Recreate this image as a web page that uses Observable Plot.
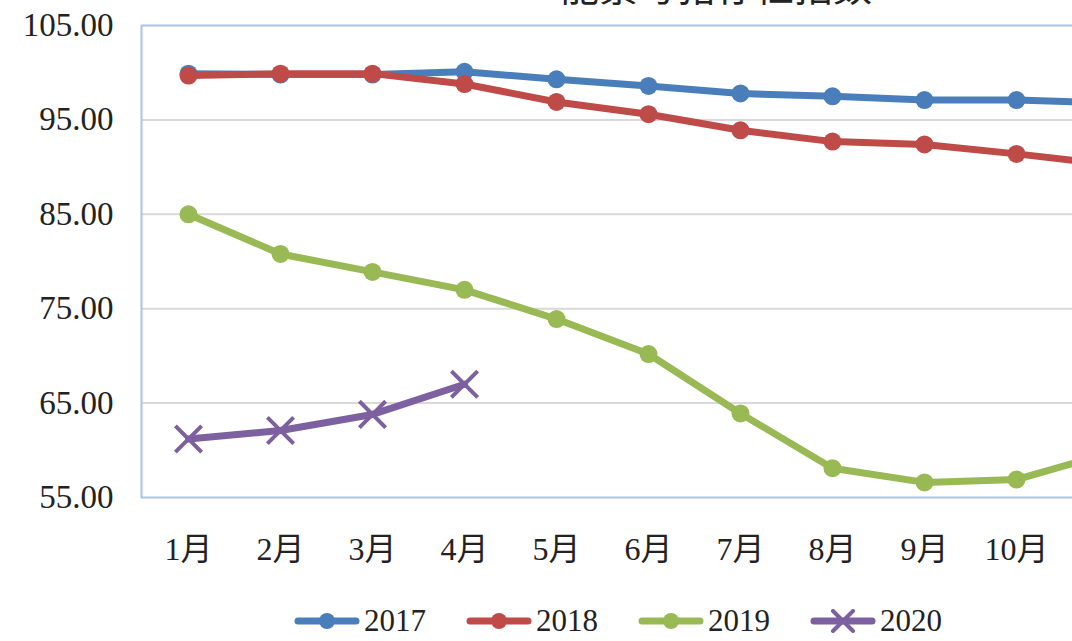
<!DOCTYPE html>
<html>
<head>
<meta charset="utf-8">
<script src="https://cdn.jsdelivr.net/npm/d3@7"></script>
<script src="https://cdn.jsdelivr.net/npm/@observablehq/plot@0.6"></script>
<style>
  html, body { margin: 0; padding: 0; background: #fff; overflow: hidden; width: 1072px; height: 641px; }
  #wrap { position: relative; width: 1072px; height: 641px; overflow: hidden; }
  #title { position: absolute; top: -40px; left: 560px; font-family: "Noto Sans CJK SC", sans-serif; font-size: 39px; color: #222; white-space: nowrap; line-height: 48px; }
  #chart { position: absolute; top: 0; left: 0; width: 1250px; }
  #chart svg { max-width: none !important; }
  #legend { position: absolute; top: 606px; left: 294px; height: 30px; display: flex; align-items: center; gap: 40px; font-family: "Liberation Serif", serif; font-size: 31px; line-height: 30px; color: #222; }
  .item { display: flex; align-items: center; gap: 4px; height: 30px; }
</style>
</head>
<body>
<div id="wrap">
  <div id="title">能繁母猪存栏指数</div>
  <div id="chart"></div>
  <div id="legend"></div>
</div>
<script>
const months = ["1月","2月","3月","4月","5月","6月","7月","8月","9月","10月","11月","12月"];
const visibleMonthTicks = ["1月","2月","3月","4月","5月","6月","7月","8月","9月","10月"];
const series = ["2017","2018","2019","2020"];
const colors = ["#4a7ebb","#be4b48","#98b954","#7d60a0"];
const yTicks = [55, 65, 75, 85, 95, 105];
const gridTicks = [65, 75, 85, 95];
const v2017 = [99.9, 99.8, 99.8, 100.1, 99.3, 98.6, 97.8, 97.5, 97.1, 97.1, 96.8];
const v2018 = [99.7, 99.9, 99.9, 98.8, 96.9, 95.6, 93.9, 92.7, 92.4, 91.4, 90.3];
const v2019 = [85.0, 80.8, 78.9, 77.0, 73.9, 70.2, 63.9, 58.1, 56.6, 56.9, 59.7];
const v2020 = [61.2, 62.1, 63.8, 67.0];

const seriesValues = [v2017, v2018, v2019, v2020];
const data = [];
seriesValues.forEach((vals, i) => {
  vals.forEach((v, j) => data.push({year: series[i], month: months[j], value: v}));
});
const circleData = data.filter(d => d.year !== "2020");
const crossData = data.filter(d => d.year === "2020");

const chart = Plot.plot({
  width: 1250,
  height: 585,
  marginLeft: 141,
  marginRight: 4,
  marginTop: 25,
  marginBottom: 88,
  style: { fontFamily: "'Liberation Serif', 'Noto Sans CJK SC', serif", fontSize: "32px", color: "#222", background: "transparent", maxWidth: "none" },
  x: { type: "band", domain: months, padding: 0, label: null },
  y: { domain: [55, 105], label: null },
  color: { domain: series, range: colors },
  marks: [
    Plot.ruleY(gridTicks, { stroke: "#d9d9d9", strokeWidth: 2 }),
    Plot.frame({ stroke: "#a9c4e4", strokeWidth: 2 }),
    Plot.axisY(yTicks, { tickSize: 0, tickPadding: 28, tickFormat: d3.format(".2f"), fontSize: 33, label: null }),
    Plot.axisX(visibleMonthTicks, { tickSize: 0, tickPadding: 40, fontSize: 32, label: null }),
    Plot.line(data, { x: "month", y: "value", z: "year", stroke: "year", strokeWidth: 7, strokeLinejoin: "round", strokeLinecap: "round" }),
    Plot.dot(circleData, { x: "month", y: "value", fill: "year", r: 9 }),
    Plot.dot(crossData, { x: "month", y: "value", stroke: "year", symbol: "times", r: 12, strokeWidth: 4 })
  ]
});
document.getElementById("chart").appendChild(chart);

const legend = document.getElementById("legend");
series.forEach((s, i) => {
  const item = document.createElement("div");
  item.className = "item";
  const marker = s === "2020"
    ? `<path d="M23 2 L43 22 M43 2 L23 22" stroke="${colors[i]}" stroke-width="4" stroke-linecap="round"/>`
    : `<circle cx="33" cy="12" r="8" fill="${colors[i]}"/>`;
  item.innerHTML = `<svg width="66" height="24"><line x1="4" y1="12" x2="62" y2="12" stroke="${colors[i]}" stroke-width="7" stroke-linecap="round"/>${marker}</svg><span>${s}</span>`;
  legend.appendChild(item);
});
</script>
</body>
</html>
